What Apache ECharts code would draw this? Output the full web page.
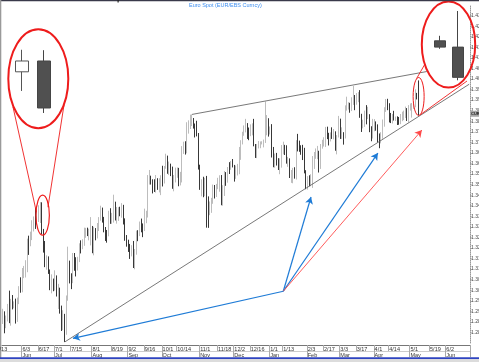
<!DOCTYPE html>
<html><head><meta charset="utf-8">
<script src="https://cdn.jsdelivr.net/npm/echarts@6/dist/echarts.min.js"></script>
<style>html,body{margin:0;padding:0;background:#fff;overflow:hidden}#c{width:479px;height:362px}</style>
</head><body><div id="c"></div>
<script>
const startDate = '2013-05-16';
const endDate = '2014-06-20';

const open = [
1.2857,1.2882,1.2837,1.2868,1.2914,1.2857,1.2935,1.2928,1.2935,1.2859,1.2942,1.3000,
1.2998,1.3070,1.3087,1.3089,1.3223,1.3219,1.3257,1.3317,1.3338,1.3337,1.3346,1.3364,1.3390,1.3277,1.3219,1.3120,1.3121,1.3086,1.3014,1.3025,
1.3008,1.3063,1.2985,1.3006,1.2914,1.2829,1.2864,1.2797,1.2960,1.3107,1.3068,1.3066,1.3156,1.3125,1.3112,1.3143,1.3218,1.3213,1.3228,1.3272,1.3278,1.3258,1.3264,
1.3302,1.3178,1.3280,1.3260,1.3300,1.3343,1.3378,1.3341,1.3280,1.3265,1.3263,1.3364,1.3330,1.3330,1.3413,1.3344,1.3358,1.3378,1.3368,1.3397,1.3334,1.3253,
1.3221,1.3204,1.3180,1.3212,1.3114,1.3180,1.3271,1.3264,1.3318,1.3298,1.3288,1.3354,1.3359,1.3525,1.3530,1.3524,1.3489,1.3478,1.3525,1.3487,1.3523,
1.3525,1.3523,1.3580,1.3621,1.3559,1.3576,1.3575,1.3514,1.3541,1.3553,1.3564,1.3513,1.3525,1.3672,1.3683,1.3679,1.3780,1.3781,1.3803,1.3806,1.3783,1.3770,1.3739,
1.3584,1.3490,1.3514,1.3455,1.3515,1.3369,1.3365,1.3407,1.3433,1.3495,1.3463,1.3499,1.3502,1.3535,1.3440,1.3456,1.3554,1.3521,1.3576,1.3574,1.3593,
1.3590,1.3544,1.3581,1.3591,1.3662,1.3705,1.3742,1.3758,1.3784,1.3744,1.3742,1.3760,1.3767,1.3683,1.3668,1.3673,1.3695,1.3696,1.3700,1.3700,1.3741,1.3796,
1.3743,1.3765,1.3668,1.3590,1.3628,1.3613,1.3576,1.3588,1.3668,1.3675,1.3672,1.3603,1.3618,1.3540,1.3552,1.3560,1.3550,1.3696,1.3678,1.3675,1.3667,1.3656,1.3560,
1.3486,1.3525,1.3514,1.3536,1.3630,1.3636,1.3644,1.3658,1.3588,1.3686,1.3690,1.3706,1.3769,1.3733,1.3714,1.3743,1.3735,1.3744,1.3679,1.3730,
1.3802,1.3737,1.3738,1.3733,1.3864,1.3875,1.3875,1.3865,1.3900,1.3913,1.3911,1.3925,1.3932,1.3828,1.3776,1.3783,1.3829,1.3823,1.3832,1.3751,1.3741,
1.3768,1.3795,1.3769,1.3722,1.3704,1.3731,1.3794,1.3857,1.3887,1.3884,1.3817,1.3813,1.3819,1.3812,1.3815,1.3799,1.3797,1.3813,1.3831,1.3831,1.3851,1.3810,
1.3869,1.3870,1.3872,1.3874,1.3922,1.3907
];
const high = [
1.2912,1.2900,1.2880,1.2935,1.2998,1.2959,1.2977,1.2947,1.2960,1.2965,1.3019,1.3061,
1.3105,1.3115,1.3142,1.3244,1.3258,1.3277,1.3331,1.3349,1.3390,1.3391,1.3402,1.3417,1.3416,1.3290,1.3233,1.3165,1.3160,1.3098,1.3075,1.3055,
1.3094,1.3070,1.3030,1.3012,1.2927,1.2905,1.2888,1.2975,1.3206,1.3140,1.3080,1.3176,1.3176,1.3156,1.3158,1.3222,1.3236,1.3241,1.3296,1.3295,1.3296,1.3291,1.3346,
1.3304,1.3300,1.3294,1.3318,1.3346,1.3400,1.3391,1.3347,1.3299,1.3285,1.3376,1.3388,1.3366,1.3452,1.3419,1.3394,1.3393,1.3395,1.3412,1.3404,1.3340,1.3261,
1.3239,1.3219,1.3213,1.3233,1.3195,1.3282,1.3284,1.3325,1.3339,1.3316,1.3386,1.3376,1.3545,1.3569,1.3542,1.3525,1.3525,1.3545,1.3530,1.3530,1.3544,
1.3589,1.3588,1.3646,1.3637,1.3609,1.3599,1.3585,1.3545,1.3580,1.3581,1.3579,1.3560,1.3682,1.3703,1.3705,1.3795,1.3804,1.3831,1.3832,1.3815,1.3789,1.3802,1.3744,
1.3594,1.3525,1.3537,1.3532,1.3541,1.3444,1.3420,1.3437,1.3500,1.3498,1.3503,1.3532,1.3544,1.3545,1.3497,1.3564,1.3559,1.3583,1.3606,1.3612,1.3621,
1.3593,1.3590,1.3598,1.3678,1.3710,1.3750,1.3780,1.3811,1.3791,1.3770,1.3785,1.3790,1.3811,1.3692,1.3692,1.3706,1.3704,1.3705,1.3713,1.3893,1.3829,1.3814,
1.3775,1.3786,1.3678,1.3647,1.3650,1.3625,1.3624,1.3687,1.3703,1.3688,1.3686,1.3631,1.3624,1.3569,1.3579,1.3582,1.3710,1.3740,1.3708,1.3686,1.3688,1.3674,1.3568,
1.3540,1.3544,1.3549,1.3635,1.3654,1.3671,1.3683,1.3660,1.3692,1.3712,1.3724,1.3773,1.3774,1.3745,1.3747,1.3771,1.3763,1.3752,1.3734,1.3825,
1.3812,1.3771,1.3748,1.3875,1.3916,1.3890,1.3887,1.3913,1.3967,1.3924,1.3933,1.3938,1.3947,1.3835,1.3807,1.3850,1.3876,1.3868,1.3833,1.3776,1.3811,
1.3810,1.3799,1.3785,1.3742,1.3748,1.3808,1.3866,1.3905,1.3906,1.3885,1.3839,1.3834,1.3849,1.3822,1.3823,1.3820,1.3834,1.3845,1.3850,1.3869,1.3862,1.3876,
1.3884,1.3886,1.3889,1.3951,1.3934,1.3993
];
const low = [
1.2840,1.2796,1.2820,1.2852,1.2844,1.2832,1.2909,1.2914,1.2842,1.2850,1.2934,1.2988,
1.2990,1.3057,1.3060,1.3085,1.3167,1.3208,1.3237,1.3278,1.3290,1.3311,1.3323,1.3318,1.3265,1.3178,1.3109,1.3097,1.3077,1.3000,1.2985,1.2995,
1.2998,1.2970,1.2911,1.2889,1.2807,1.2811,1.2755,1.2789,1.2950,1.3032,1.3005,1.3033,1.3092,1.3065,1.3093,1.3133,1.3174,1.3194,1.3210,1.3248,1.3256,1.3236,1.3212,
1.3175,1.3165,1.3236,1.3245,1.3280,1.3329,1.3320,1.3274,1.3233,1.3225,1.3255,1.3314,1.3314,1.3320,1.3330,1.3315,1.3328,1.3350,1.3343,1.3311,1.3234,1.3206,
1.3181,1.3148,1.3160,1.3105,1.3099,1.3168,1.3232,1.3256,1.3274,1.3251,1.3280,1.3317,1.3344,1.3500,1.3500,1.3458,1.3465,1.3462,1.3475,1.3463,1.3450,
1.3491,1.3505,1.3575,1.3551,1.3545,1.3540,1.3480,1.3468,1.3510,1.3532,1.3492,1.3496,1.3510,1.3645,1.3642,1.3648,1.3741,1.3763,1.3777,1.3765,1.3723,1.3728,1.3571,
1.3475,1.3444,1.3440,1.3445,1.3296,1.3295,1.3355,1.3366,1.3409,1.3434,1.3441,1.3478,1.3466,1.3402,1.3400,1.3446,1.3494,1.3509,1.3550,1.3570,1.3581,
1.3514,1.3527,1.3543,1.3549,1.3617,1.3690,1.3731,1.3747,1.3716,1.3710,1.3729,1.3733,1.3681,1.3626,1.3625,1.3671,1.3672,1.3690,1.3676,1.3697,1.3733,1.3727,
1.3737,1.3628,1.3582,1.3580,1.3590,1.3569,1.3549,1.3580,1.3643,1.3640,1.3599,1.3584,1.3531,1.3508,1.3506,1.3528,1.3524,1.3657,1.3655,1.3641,1.3616,1.3553,1.3478,
1.3476,1.3492,1.3492,1.3484,1.3574,1.3622,1.3620,1.3557,1.3574,1.3670,1.3680,1.3678,1.3715,1.3685,1.3704,1.3716,1.3714,1.3660,1.3643,1.3723,
1.3716,1.3716,1.3689,1.3718,1.3850,1.3855,1.3840,1.3848,1.3877,1.3852,1.3878,1.3890,1.3816,1.3749,1.3766,1.3773,1.3785,1.3810,1.3748,1.3705,1.3718,
1.3752,1.3755,1.3700,1.3672,1.3695,1.3717,1.3774,1.3844,1.3852,1.3794,1.3791,1.3789,1.3803,1.3801,1.3782,1.3783,1.3786,1.3800,1.3805,1.3815,1.3801,1.3794,
1.3850,1.3817,1.3858,1.3866,1.3903,1.3828
];
const close = [
1.2882,1.2837,1.2868,1.2914,1.2857,1.2935,1.2928,1.2935,1.2859,1.2942,1.3000,1.2998,
1.3070,1.3087,1.3089,1.3223,1.3219,1.3257,1.3317,1.3338,1.3337,1.3346,1.3364,1.3390,1.3277,1.3219,1.3120,1.3121,1.3086,1.3014,1.3025,1.3008,
1.3063,1.2985,1.3006,1.2914,1.2829,1.2864,1.2797,1.2960,1.3107,1.3068,1.3066,1.3156,1.3125,1.3112,1.3143,1.3218,1.3213,1.3228,1.3272,1.3278,1.3258,1.3264,1.3302,
1.3178,1.3280,1.3260,1.3300,1.3343,1.3378,1.3341,1.3280,1.3265,1.3263,1.3364,1.3330,1.3330,1.3413,1.3344,1.3358,1.3378,1.3368,1.3397,1.3334,1.3253,1.3221,
1.3204,1.3180,1.3212,1.3114,1.3180,1.3271,1.3264,1.3318,1.3298,1.3288,1.3354,1.3359,1.3525,1.3530,1.3524,1.3489,1.3478,1.3525,1.3487,1.3523,1.3525,
1.3523,1.3580,1.3621,1.3559,1.3576,1.3575,1.3514,1.3541,1.3553,1.3564,1.3513,1.3525,1.3672,1.3683,1.3679,1.3780,1.3781,1.3803,1.3806,1.3783,1.3770,1.3739,1.3584,
1.3490,1.3514,1.3455,1.3515,1.3369,1.3365,1.3407,1.3433,1.3495,1.3463,1.3499,1.3502,1.3535,1.3440,1.3456,1.3554,1.3521,1.3576,1.3574,1.3593,1.3590,
1.3544,1.3581,1.3591,1.3662,1.3705,1.3742,1.3758,1.3784,1.3744,1.3742,1.3760,1.3767,1.3683,1.3668,1.3673,1.3695,1.3696,1.3700,1.3700,1.3741,1.3796,1.3743,
1.3765,1.3668,1.3590,1.3628,1.3613,1.3576,1.3588,1.3668,1.3675,1.3672,1.3603,1.3618,1.3540,1.3552,1.3560,1.3550,1.3696,1.3678,1.3675,1.3667,1.3656,1.3560,1.3486,
1.3525,1.3514,1.3536,1.3630,1.3636,1.3644,1.3658,1.3588,1.3686,1.3690,1.3706,1.3769,1.3733,1.3714,1.3743,1.3735,1.3744,1.3679,1.3730,1.3802,
1.3737,1.3738,1.3733,1.3864,1.3875,1.3875,1.3865,1.3900,1.3913,1.3911,1.3925,1.3932,1.3828,1.3776,1.3783,1.3829,1.3823,1.3832,1.3751,1.3741,1.3768,
1.3795,1.3769,1.3722,1.3704,1.3731,1.3794,1.3857,1.3887,1.3884,1.3817,1.3813,1.3819,1.3812,1.3815,1.3799,1.3797,1.3813,1.3831,1.3831,1.3851,1.3810,1.3869,
1.3870,1.3872,1.3874,1.3922,1.3907,1.3835
];

const dateTicks = ['2013-06-03','2013-06-17','2013-07-01','2013-07-15','2013-08-01','2013-08-19','2013-09-02','2013-09-16','2013-10-01','2013-10-14','2013-11-01','2013-11-18','2013-12-02','2013-12-16','2014-01-01','2014-01-13','2014-02-03','2014-02-17','2014-03-03','2014-03-17','2014-04-01','2014-04-14','2014-05-01','2014-05-19','2014-06-02'];
const monthTicks = ['2013-06-03','2013-07-01','2013-08-01','2013-09-02','2013-10-01','2013-11-01','2013-12-02','2014-01-01','2014-02-03','2014-03-03','2014-04-01','2014-05-01','2014-06-02'];
const monthNames = ['Jun','Jul','Aug','Sep','Oct','Nov','Dec','Jan','Feb','Mar','Apr','May','Jun'];
const yMin = 1.275, yMax = 1.435, yStep = 0.005;

const upperTrend = [['2013-10-25', 1.3832], ['2014-05-15', 1.4035]];
const lowerTrend = [['2013-07-09', 1.2755], ['2014-06-20', 1.3975]];
const arrowOrigin = ['2014-01-13', 1.2995];
const blueTargets = [['2013-07-16', 1.2772], ['2014-02-05', 1.3441], ['2014-04-03', 1.3649]];
const redTarget = ['2014-05-12', 1.3758];
const leftZoomDays = ['2013-06-18', '2013-06-19'];
const rightZoomDays = ['2014-05-07', '2014-05-08'];
const leftSpot = ['2013-06-19', 1.3355];
const rightSpot = ['2014-05-08', 1.3917];

function weekdays(a, b) {
  const out = []; const d = new Date(a + 'T00:00:00Z'); const e = new Date(b + 'T00:00:00Z');
  while (d <= e) { const w = d.getUTCDay(); if (w !== 0 && w !== 6) out.push(d.toISOString().slice(0, 10)); d.setUTCDate(d.getUTCDate() + 1); }
  return out;
}
const categories = weekdays(startDate, endDate);
const candles = open.map((o, i) => [o, close[i], low[i], high[i]]);
const pick = days => days.map(dd => candles[categories.indexOf(dd)]);
const dateSet = new Set(dateTicks);
const monthMap = {}; monthTicks.forEach((m, i) => monthMap[m] = monthNames[i]);
const fmtDay = v => { const p = v.split('-'); return (+p[1]) + '/' + (+p[2]); };

const RED = '#ee1c1c', BLUE = '#1e7bd6';
const lineItem = (a, b, color, width, arrow) => [
  { coord: a, symbol: 'none', lineStyle: { color: color, width: width, type: 'solid' } },
  { coord: b, symbol: arrow ? 'arrow' : 'none' }
];

const chart = echarts.init(document.getElementById('c'), null, { renderer: 'canvas' });
const insetAxisX = (gi) => ({ type: 'category', gridIndex: gi, data: ['a', 'b'], show: false, boundaryGap: true });
const insetAxisY = (gi, mn, mx) => ({ type: 'value', gridIndex: gi, min: mn, max: mx, show: false, splitLine: { show: false } });
const insetStyle = { color: '#ffffff', color0: '#505050', borderColor: '#555555', borderColor0: '#454545', borderWidth: 1 };
const gridBase = { outerBoundsMode: 'none', containLabel: false };

chart.setOption({
  animation: false,
  backgroundColor: '#ffffff',
  title: { text: 'Euro Spot (EUR/EBS Curncy)', left: 189, top: 2, padding: 0,
    textStyle: { fontSize: 5.5, color: '#3d8ef0', fontWeight: 'normal', fontFamily: 'Arial' } },
  grid: [
    Object.assign({ left: 2, right: 9, top: 5, bottom: 19 }, gridBase),
    Object.assign({ left: 11, width: 44, top: 30, height: 98 }, gridBase),
    Object.assign({ left: 431, width: 36, top: 5, height: 80 }, gridBase)
  ],
  xAxis: [
    { type: 'category', gridIndex: 0, data: categories, boundaryGap: true, offset: 2,
      axisLine: { lineStyle: { color: '#777', width: 1 } },
      axisTick: { show: true, length: 6, lineStyle: { color: '#aaa' }, interval: (i, v) => dateSet.has(v) },
      axisLabel: { interval: (i, v) => dateSet.has(v), formatter: fmtDay, fontSize: 5.5, color: '#333', align: 'left', margin: 1.5, fontFamily: 'Arial', hideOverlap: false },
      splitLine: { show: false } },
    { type: 'category', gridIndex: 0, data: categories, boundaryGap: true, offset: 8, position: 'bottom',
      axisLine: { lineStyle: { color: '#ccc', width: 1 } },
      axisTick: { show: true, length: 6, lineStyle: { color: '#aaa' }, interval: (i, v) => v in monthMap },
      axisLabel: { interval: (i, v) => v in monthMap, formatter: v => monthMap[v] || '', fontSize: 5.5, color: '#333', align: 'left', margin: 1.5, fontFamily: 'Arial', hideOverlap: false },
      splitLine: { show: false } },
    insetAxisX(1), insetAxisX(2)
  ],
  yAxis: [
    { type: 'value', gridIndex: 0, position: 'right', min: yMin, max: yMax, interval: yStep,
      axisLine: { show: true, lineStyle: { color: '#999', type: 'dotted' } },
      axisTick: { show: true, length: 1.5, lineStyle: { color: '#999' } },
      axisLabel: { formatter: v => v.toFixed(3), fontSize: 5, color: '#444', margin: 1, showMinLabel: false, showMaxLabel: false, fontFamily: 'Arial', hideOverlap: false },
      splitLine: { show: false } },
    insetAxisY(1, 1.32289, 1.34645), insetAxisY(2, 1.38168, 1.40073)
  ],
  series: [
    { type: 'candlestick', xAxisIndex: 0, yAxisIndex: 0, data: candles, barWidth: 1,
      itemStyle: { color: '#cccccc', color0: '#383838', borderColor: '#bdbdbd', borderColor0: '#383838', borderWidth: 1 },
      markLine: { silent: true, symbolSize: [6, 7], label: { show: false },
        data: [
          lineItem(upperTrend[0], upperTrend[1], '#555', 0.8, false),
          lineItem(lowerTrend[0], lowerTrend[1], '#555', 0.8, false),
          lineItem(arrowOrigin, blueTargets[0], BLUE, 1.2, true),
          lineItem(arrowOrigin, blueTargets[1], BLUE, 1.2, true),
          lineItem(arrowOrigin, blueTargets[2], BLUE, 1.2, true),
          lineItem(arrowOrigin, redTarget, '#ff4a4a', 0.9, true)
        ] } },
    { type: 'candlestick', xAxisIndex: 2, yAxisIndex: 1, data: pick(leftZoomDays), barWidth: 13, itemStyle: insetStyle },
    { type: 'candlestick', xAxisIndex: 3, yAxisIndex: 2, data: pick(rightZoomDays), barWidth: 12, itemStyle: insetStyle }
  ]
});

const pL = chart.convertToPixel({ xAxisIndex: 0, yAxisIndex: 0 }, leftSpot);
const pR = chart.convertToPixel({ xAxisIndex: 0, yAxisIndex: 0 }, rightSpot);
const pC = chart.convertToPixel({ xAxisIndex: 0, yAxisIndex: 0 }, [categories[close.length - 1], close[close.length - 1]]);
const ell = (cx, cy, rx, ry, w) => ({ type: 'ellipse', shape: { cx: cx, cy: cy, rx: rx, ry: ry }, style: { fill: 'none', stroke: RED, lineWidth: w }, z: 100 });
const seg = (x1, y1, x2, y2) => ({ type: 'line', shape: { x1: x1, y1: y1, x2: x2, y2: y2 }, style: { stroke: RED, lineWidth: 0.9 }, z: 100 });
chart.setOption({
  graphic: [
    { type: 'rect', shape: { x: 0, y: 0, width: 479, height: 1.2 }, style: { fill: '#3a3a4a' }, z: 120 },
    { type: 'rect', shape: { x: 117.5, y: 0, width: 1.2, height: 2.5 }, style: { fill: '#222' }, z: 120 },
    { type: 'rect', shape: { x: 0, y: 0, width: 1.3, height: 358 }, style: { fill: '#9a9a9a' }, z: 120 },
    { type: 'rect', shape: { x: 0, y: 357.2, width: 479, height: 2 }, style: { fill: '#2f44c0' }, z: 120 },
    { type: 'rect', shape: { x: 0, y: 359.2, width: 479, height: 3 }, style: { fill: '#dcdcdc' }, z: 120 },
    { type: 'text', x: -3.5, y: 346.5, style: { text: '5/13', font: '5.5px Arial', fill: '#333' }, z: 120 },
    ell(38.3, 78.7, 30, 49.5, 2),
    ell(448.5, 44.5, 26.7, 43, 2),
    ell(pL[0] + 0.7, pL[1], 6.7, 20, 1.2),
    ell(pR[0], pR[1], 5.5, 19, 1),
    seg(13, 107, pL[0] - 5.5, pL[1] - 3),
    seg(64, 105, pL[0] + 6, pL[1] - 8),
    seg(pR[0] - 2, pR[1] - 18, 425, 64),
    seg(pR[0] + 2, pR[1] + 18, 467, 81),
    { type: 'rect', shape: { x: 470.5, y: pC[1] - 3, width: 9, height: 6 }, style: { fill: '#a8a8a8' }, z: 110 },
    { type: 'text', x: 471, y: pC[1] - 2.2, style: { text: 'CURR', font: 'bold 4px Arial', fill: '#222' }, z: 111 }
  ]
});
</script>
</body></html>
